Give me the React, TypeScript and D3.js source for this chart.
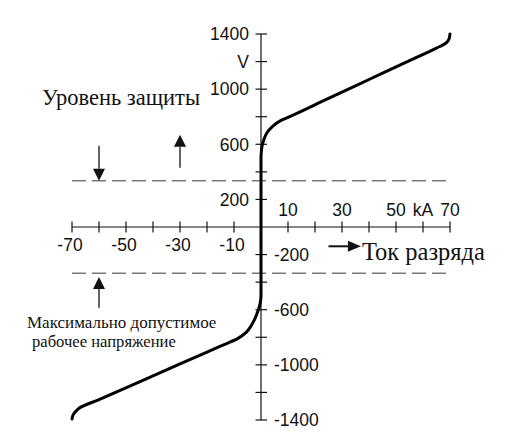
import React from "react";
import * as d3 from "d3";

// ---- data ----
const posCurrent = [0, 0, 0.2, 0.5, 1, 2.1, 4.3, 7.1, 10, 25, 40, 55, 65, 67.6, 68.8, 69.6, 70];
const posVoltage = [0, 500, 560, 600, 630, 680, 730, 770, 795, 933, 1070, 1207, 1298, 1323, 1340, 1362, 1400];
const negCurrent = [-70, -69.5, -68.5, -67.4, -60, -45, -30, -15, -8.5, -5.5, -3.7, -2.2, -1.1, -0.4, 0, 0];
const negVoltage = [-1392, -1360, -1335, -1315, -1252, -1123, -993, -864, -808, -765, -718, -662, -608, -560, -500, 0];

const yTicks = [1400, 1200, 1000, 800, 600, 400, 200, -200, -400, -600, -800, -1000, -1200, -1400];
const xTicks = [-70, -60, -50, -40, -30, -20, -10, 10, 20, 30, 40, 50, 60, 70];
const yLabelsLeft = ["1400", "V", "1000", "600", "200"];
const yLabelsLeftAt = [1400, 1200, 1000, 600, 200];
const yLabelsRight = [-200, -600, -1000, -1400];
const xLabelsTop = ["10", "30", "50", "kA", "70"];
const xLabelsTopAt = [10, 30, 50, 60, 70];
const xLabelsBottom = [-70, -50, -30, -10];
const levels = [335, -335];

const W = 515;
const H = 433;

export default function App() {
  const x = d3.scaleLinear().domain([-70, 70]).range([72, 450]);
  const y = d3.scaleLinear().domain([-1400, 1400]).range([420, 34]);

  const pts: [number, number][] = [];
  negCurrent.forEach((c, i) => pts.push([c, negVoltage[i]]));
  posCurrent.forEach((c, i) => { if (i > 0) pts.push([c, posVoltage[i]]); });

  const line = d3
    .line<[number, number]>()
    .x((d) => x(d[0]))
    .y((d) => y(d[1]))
    .curve(d3.curveMonotoneY);

  const x0 = x(0);
  const y0 = y(0);
  const sans = "'Liberation Sans', Arial, Helvetica, sans-serif";
  const serif = "'Liberation Serif', 'Times New Roman', serif";
  const ink = "#111";

  const vArrow = (kA: number, from: number, to: number, key: string) => {
    const ax = x(kA);
    const y1 = y(from);
    const y2 = y(to);
    const dir = y2 > y1 ? 1 : -1;
    const base = y2 - dir * 12;
    return (
      <g key={key}>
        <line x1={ax} x2={ax} y1={y1} y2={base} stroke={ink} strokeWidth={1.3} />
        <path d={`M${ax - 6},${base} L${ax + 6},${base} L${ax},${y2} Z`} fill={ink} />
      </g>
    );
  };

  const ar = y(-140);
  const arX1 = x(25);
  const arX2 = x(37);

  return (
    <svg
      width={W}
      height={H}
      viewBox={`0 0 ${W} ${H}`}
      style={{ position: "absolute", left: 0, top: 0, background: "#fff" }}
    >
      <rect x={0} y={0} width={W} height={H} fill="#fff" />
      {/* dashed levels */}
      {levels.map((v) => (
        <line key={v} x1={x(-70)} x2={x(70) + 2} y1={y(v)} y2={y(v)} stroke="#333" strokeWidth={1} strokeDasharray="14,6" />
      ))}
      {/* axes */}
      <line x1={x(-70)} x2={x(70)} y1={y0} y2={y0} stroke={ink} strokeWidth={1.2} />
      <line x1={x0} x2={x0} y1={y(1400)} y2={y(-1400)} stroke={ink} strokeWidth={1.2} />
      {xTicks.map((t) => (
        <line key={t} x1={x(t)} x2={x(t)} y1={y0 - 5.5} y2={y0 + 5.5} stroke={ink} strokeWidth={1.2} />
      ))}
      {yTicks.map((t) => (
        <line key={t} x1={x0 - 5.5} x2={x0 + 6} y1={y(t)} y2={y(t)} stroke={ink} strokeWidth={1.2} />
      ))}
      {/* curve */}
      <path d={line(pts) || ""} fill="none" stroke="#000" strokeWidth={3} strokeLinejoin="round" strokeLinecap="round" />
      {/* tick labels */}
      {yLabelsLeft.map((l, i) => (
        <text key={l} x={x0 - 12} y={y(yLabelsLeftAt[i])} dy="0.36em" textAnchor="end" fontFamily={sans} fontSize={17.5} fill={ink}>
          {l}
        </text>
      ))}
      {yLabelsRight.map((v) => (
        <text key={v} x={x0 + 13} y={y(v)} dy="0.36em" textAnchor="start" fontFamily={sans} fontSize={17.5} fill={ink}>
          {String(v)}
        </text>
      ))}
      {xLabelsTop.map((l, i) => (
        <text key={l} x={x(xLabelsTopAt[i])} y={y0 - 11} textAnchor="middle" fontFamily={sans} fontSize={17.5} fill={ink}>
          {l}
        </text>
      ))}
      {xLabelsBottom.map((v) => (
        <text key={v} x={x(v) - 2} y={y0 + 24} textAnchor="middle" fontFamily={sans} fontSize={17.5} fill={ink}>
          {String(v)}
        </text>
      ))}
      {/* annotations */}
      {vArrow(-60, 590, 335, "a1")}
      {vArrow(-30, 430, 670, "a2")}
      {vArrow(-60, -585, -362, "a3")}
      <line x1={arX1} x2={arX2 - 11} y1={ar} y2={ar} stroke={ink} strokeWidth={2} />
      <path d={`M${arX2 - 13},${ar - 5.5} L${arX2},${ar} L${arX2 - 13},${ar + 5.5} Z`} fill={ink} />
      <text x={arX2 + 1} y={y0 + 33} fontFamily={serif} fontSize={24.5} fill={ink}>Ток разряда</text>
      <text x={42} y={105} fontFamily={serif} fontSize={22.5} fill={ink}>Уровень защиты</text>
      <text x={27} y={328} fontFamily={serif} fontSize={17} fill={ink}>Максимально допустимое</text>
      <text x={32} y={347} fontFamily={serif} fontSize={16.6} fill={ink}>рабочее напряжение</text>
    </svg>
  );
}
